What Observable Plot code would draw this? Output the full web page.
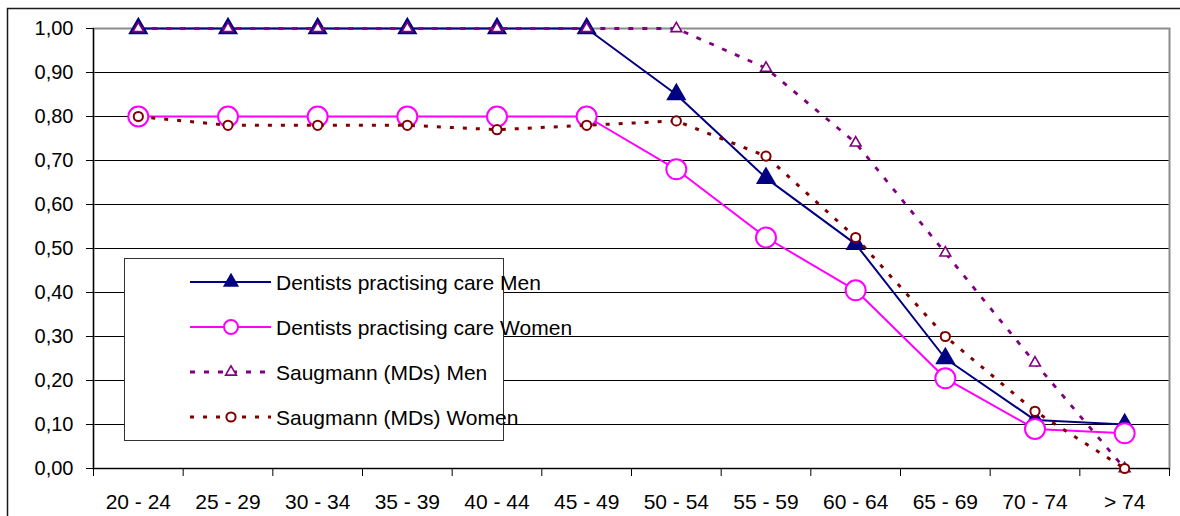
<!DOCTYPE html>
<html><head><meta charset="utf-8">
<script src="https://cdn.jsdelivr.net/npm/d3@7"></script>
<script src="https://cdn.jsdelivr.net/npm/@observablehq/plot@0.6"></script>
<style>
body{margin:0;background:#fff;}
#chart{position:relative;width:1180px;height:516px;overflow:hidden;}
</style>
</head><body><div id="chart"></div>
<script>
const categories = ["20 - 24","25 - 29","30 - 34","35 - 39","40 - 44","45 - 49","50 - 54","55 - 59","60 - 64","65 - 69","70 - 74","> 74"];
const seriesNames = ["Dentists practising care Men","Dentists practising care Women","Saugmann (MDs) Men","Saugmann (MDs) Women"];
const dentistsMen   = [1.00,1.00,1.00,1.00,1.00,1.00,0.85,0.66,0.51,0.25,0.11,0.10];
const dentistsWomen = [0.80,0.80,0.80,0.80,0.80,0.80,0.68,0.525,0.405,0.205,0.09,0.08];
const saugmannMen   = [1.00,1.00,1.00,1.00,1.00,1.00,1.00,0.91,0.74,0.49,0.24,0.00];
const saugmannWomen = [0.80,0.78,0.78,0.78,0.77,0.78,0.79,0.71,0.525,0.30,0.13,0.00];
const yTicks = [0,0.1,0.2,0.3,0.4,0.5,0.6,0.7,0.8,0.9,1.0];

const seriesValues = [dentistsMen, dentistsWomen, saugmannMen, saugmannWomen];
const seriesStyle = [
  {stroke:"#000080", width:2,   dash:null,   symbol:"triangle", r:7.5, lr:6,   fill:"#000080", mstroke:"none",    msw:0},
  {stroke:"#FF00FF", width:2,   dash:null,   symbol:"circle",   r:10,  lr:7,   fill:"#ffffff", mstroke:"#FF00FF", msw:2},
  {stroke:"#800080", width:2.8, dash:"5,9",  symbol:"triangle", r:4,   lr:4,   fill:"#ffffff", mstroke:"#800080", msw:1.6},
  {stroke:"#800000", width:3,   dash:"4,9",  symbol:"circle",   r:4.6, lr:4.6, fill:"#ffffff", mstroke:"#800000", msw:2}
];

const rows = seriesNames.map((name, k) =>
  seriesValues[k].map((v, i) => ({series: name, x: i + 0.5, value: v})));

const fontFamily = "'Liberation Sans', Arial, sans-serif";
const marks = [
  Plot.ruleY(yTicks.filter(t => t > 0 && t < 1), {stroke: "#000", strokeWidth: 1}),
  Plot.frame({stroke: "#8c8c8c", strokeWidth: 2}),
  Plot.ruleX([0], {stroke: "#000", strokeWidth: 1.2}),
  Plot.ruleY([0], {stroke: "#000", strokeWidth: 1.2}),
  Plot.axisY({ticks: yTicks, tickFormat: d => d.toFixed(2).replace(".", ","), tickSize: 7, tickPadding: 13, fontSize: 20, stroke: "#000", label: null}),
  Plot.axisX({ticks: d3.range(0, 13), tickFormat: () => "", tickSize: 8, stroke: "#000", label: null}),
  Plot.axisX({ticks: categories.map((c, i) => i + 0.5), tickFormat: v => categories[Math.floor(v)], tickSize: 0, tickPadding: 26, fontSize: 21, label: null})
];
rows.forEach((data, k) => {
  const s = seriesStyle[k];
  marks.push(Plot.line(data, {x: "x", y: "value", stroke: s.stroke, strokeWidth: s.width, strokeDasharray: s.dash, strokeLinecap: "butt"}));
  marks.push(Plot.dot(data, {x: "x", y: "value", symbol: s.symbol, r: s.r, fill: s.fill, stroke: s.mstroke, strokeWidth: s.msw}));
});

const chart = Plot.plot({
  width: 1180, height: 516,
  marginLeft: 93, marginRight: 11, marginTop: 28, marginBottom: 48,
  x: {type: "linear", domain: [0, 12], label: null},
  y: {domain: [0, 1], label: null},
  style: {fontFamily, fontSize: "20px", background: "#fff", color: "#000", overflow: "visible"},
  marks
});
document.getElementById("chart").appendChild(chart);

// outer chart-area border (top and left visible)
const svg = d3.select(chart);
svg.append("rect").attr("x", 7.5).attr("y", 8.5).attr("width", 1200).attr("height", 600)
  .attr("fill", "none").attr("stroke", "#1a1a1a").attr("stroke-width", 1.5);

// legend
const lg = svg.append("g").attr("font-family", fontFamily).attr("font-size", 21).attr("text-anchor", "start");
lg.append("rect").attr("x", 124.5).attr("y", 258.5).attr("width", 379).attr("height", 182)
  .attr("fill", "#fff").attr("stroke", "#333").attr("stroke-width", 1);
const rowY = [282, 327, 372, 417];
seriesNames.forEach((name, k) => {
  const s = seriesStyle[k];
  const y = rowY[k];
  lg.append("line").attr("x1", 190).attr("x2", 271).attr("y1", y).attr("y2", y)
    .attr("stroke", s.stroke).attr("stroke-width", s.width).attr("stroke-dasharray", s.dash);
  const sym = s.symbol === "triangle" ? d3.symbolTriangle : d3.symbolCircle;
  lg.append("path").attr("d", d3.symbol(sym, Math.PI * s.lr * s.lr)())
    .attr("transform", `translate(231,${y})`)
    .attr("fill", s.fill).attr("stroke", s.mstroke).attr("stroke-width", s.msw);
  lg.append("text").attr("x", 276).attr("y", y).attr("dy", "0.36em").attr("text-anchor", "start").attr("fill", "#000").text(name);
});
</script>
</body></html>
